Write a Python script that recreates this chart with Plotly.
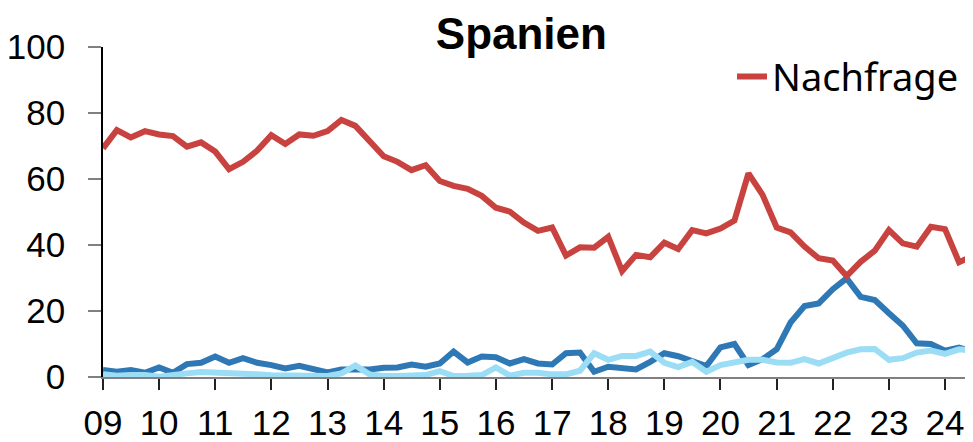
import plotly.graph_objects as go
import pandas as pd

# Quarterly observations 2009Q1 .. 2024Q3
quarters = pd.date_range("2009-01-01", periods=63, freq="QS")

nachfrage = [
    69.3, 74.8, 72.6, 74.5, 73.5, 73.0, 69.8, 71.1, 68.3, 63.0, 65.2, 68.6,
    73.3, 70.6, 73.5, 73.1, 74.5, 77.9, 76.1, 71.3, 66.9,
    65.2, 62.7, 64.2, 59.4, 57.9, 57.0, 54.9, 51.3, 50.1, 46.8, 44.3, 45.3,
    36.8, 39.3, 39.2, 42.5, 32.1, 37.0, 36.3, 40.7, 38.8,
    44.5, 43.5, 45.0, 47.4, 61.7, 55.2, 45.3, 43.8, 39.5, 36.0, 35.3, 30.6,
    34.9, 38.3, 44.5, 40.5, 39.5, 45.5, 44.8, 34.8, 36.7,
]

reihe2 = [
    2.1, 1.6, 2.1, 1.3, 2.9, 1.3, 3.9, 4.3, 6.2, 4.3, 5.7, 4.3, 3.6, 2.6,
    3.4, 2.3, 1.4, 2.3, 2.3, 2.3, 2.8,
    2.9, 3.8, 3.1, 4.1, 7.7, 4.4, 6.2, 6.0, 4.1, 5.4, 4.1, 3.8, 7.2, 7.4,
    1.6, 3.1, 2.6, 2.3, 4.6, 7.2, 6.3,
    4.8, 3.3, 9.0, 10.0, 3.6, 5.4, 8.4, 16.5, 21.5, 22.3, 26.6, 29.9, 24.3,
    23.3, 19.3, 15.6, 10.2, 10.0, 8.0, 8.9, 7.7,
]

reihe3 = [
    0.8, 0.4, 0.6, 0.6, 0.1, 0.8, 1.1, 1.5, 1.4, 1.1, 1.1, 0.8, 0.5, 0.4,
    0.3, 0.3, 0.3, 1.1, 3.5, 0.8, 0.3,
    0.3, 0.6, 0.6, 1.8, 0.3, 0.4, 0.6, 2.9, 0.4, 1.3, 1.3, 0.8, 0.8, 1.9,
    7.2, 5.2, 6.4, 6.4, 7.7, 4.3, 3.0,
    4.6, 1.6, 3.6, 4.6, 5.2, 5.2, 4.4, 4.3, 5.4, 4.1, 5.9, 7.4, 8.4, 8.5,
    5.2, 5.7, 7.4, 8.0, 7.0, 8.4, 8.0,
]

tick_dates = ["2009-01-01", "2010-01-01", "2011-01-01", "2012-01-01",
              "2013-01-01", "2014-01-01", "2015-01-01", "2016-01-01",
              "2017-01-01", "2018-01-01", "2019-01-01", "2020-01-01",
              "2021-01-01", "2022-01-01", "2023-01-01", "2024-01-01"]
tick_labels = ["09", "10", "11", "12", "13", "14", "15", "16",
               "17", "18", "19", "20", "21", "22", "23", "24"]
y_ticks = [0, 20, 40, 60, 80, 100]

RED = "#C8433F"
DARK = "#2E79B5"
LIGHT = "#9CDDF6"
TICK_FONT = dict(family="Liberation Sans", size=35, color="black")

fig = go.Figure()
fig.add_trace(go.Scatter(x=quarters, y=reihe2, mode="lines", name="Reihe 2",
                         line=dict(color=DARK, width=6), showlegend=False))
fig.add_trace(go.Scatter(x=quarters, y=reihe3, mode="lines", name="Reihe 3",
                         line=dict(color=LIGHT, width=6), showlegend=False))
fig.add_trace(go.Scatter(x=quarters, y=nachfrage, mode="lines", name="Nachfrage",
                         line=dict(color=RED, width=6)))

x_range = [quarters[0], quarters[-1]]

fig.update_layout(
    width=965, height=434,
    margin=dict(l=95, r=0, t=39, b=65, autoexpand=False),
    plot_bgcolor="white", paper_bgcolor="white",
    font=dict(family="Noto Sans", size=36, color="black"),
    title=dict(text="<b>Spanien</b>", x=0.532, xanchor="center", xref="container",
               y=0.941, yref="container", yanchor="middle",
               font=dict(family="Liberation Sans", size=44, color="black")),
    showlegend=True,
    legend=dict(x=0.723, xanchor="left", y=0.91, yanchor="middle",
                bgcolor="rgba(0,0,0,0)", font=dict(size=38)),
    xaxis=dict(type="date", range=x_range, tickvals=tick_dates, ticktext=tick_labels,
               tickfont=TICK_FONT,
               ticks="outside", ticklen=11, tickwidth=1.5, tickcolor="#222",
               ticklabelstandoff=3, automargin=False,
               showline=True, linecolor="#808080", linewidth=1.5,
               showgrid=False, zeroline=False),
    xaxis2=dict(type="date", overlaying="x", anchor="y", range=x_range,
                tickvals=tick_dates, ticks="inside", ticklen=11, tickwidth=1.5,
                tickcolor="#222", showticklabels=False, showline=False,
                automargin=False, showgrid=False, zeroline=False),
    yaxis=dict(range=[0, 100], tickvals=y_ticks, tickfont=TICK_FONT,
               ticks="outside", ticklen=13,
               tickwidth=1.5, tickcolor="#808080", ticklabelstandoff=16,
               automargin=False, showline=True, linecolor="black",
               linewidth=1.5, showgrid=False, zeroline=False),
)

fig.write_html("out.html")
